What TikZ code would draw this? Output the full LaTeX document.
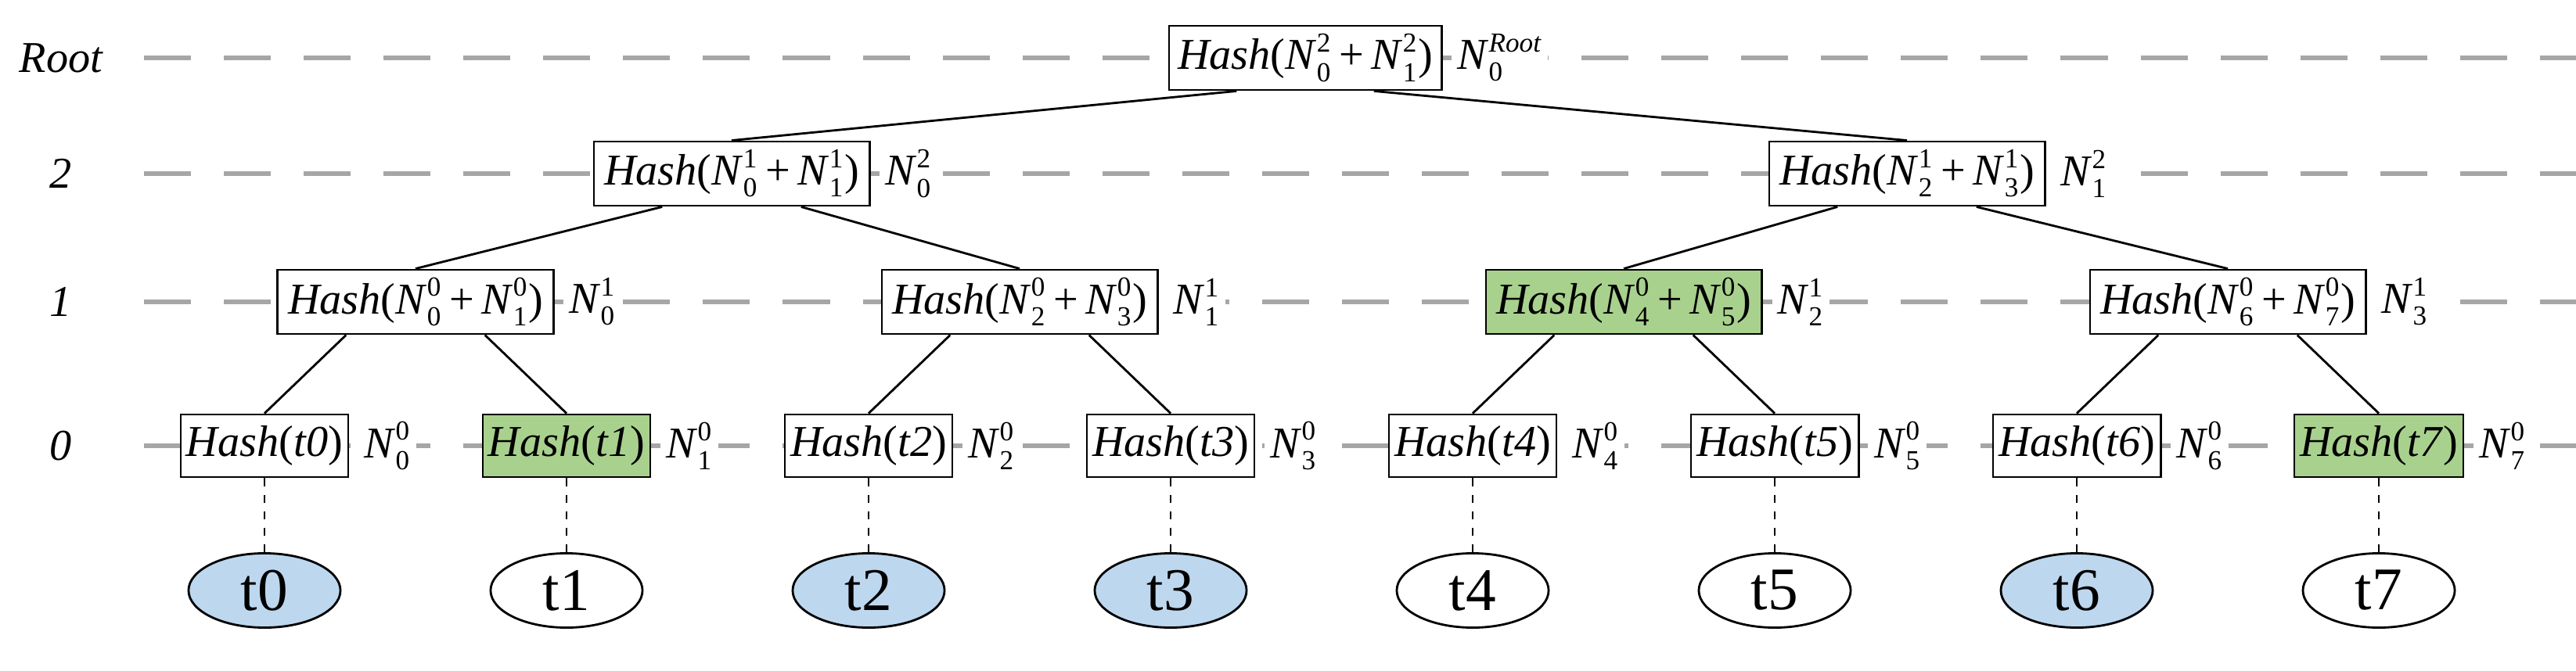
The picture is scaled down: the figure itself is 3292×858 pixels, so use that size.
\documentclass[tikz,border=0pt]{standalone}
\usepackage{fontspec}
\setmainfont{Liberation Serif}
\usetikzlibrary{calc, shapes.geometric}

\definecolor{leafgreen}{HTML}{A9D18E}
\definecolor{txblue}{HTML}{BDD7EE}
\newcommand{\nn}[2]{\textit{N}$^{\mbox{\fontsize{10}{10}\selectfont #2}}_{\mbox{\fontsize{10}{10}\selectfont #1}}$}

\begin{document}
\begin{tikzpicture}[
    x=0.01cm, y=-0.01cm,
    line width=0.8pt,
    font=\fontsize{16}{19}\selectfont,
    hashbox/.style={draw, fill=white, minimum height=0.8cm, inner sep=2pt},
    leafbox/.style={hashbox, minimum width=2.11cm},
    innerbox/.style={hashbox, minimum width=3.52cm, minimum height=0.82cm},
    tx/.style={draw, ellipse, minimum width=1.94cm, minimum height=0.95cm, inner sep=0pt, font=\fontsize{22}{26}\selectfont},
    nlabel/.style={anchor=west, fill=white, inner sep=2pt, xshift=3pt},
    level_line/.style={draw=gray!70, line width=1.6pt, dash pattern=on 0.6cm off 0.42cm},
    level_name/.style={font=\fontsize{16}{19}\selectfont\itshape}
]
    \useasboundingbox (0,0) rectangle (3292,858);

    % Level lines and names
    \foreach \name/\y in {Root/74, 2/222, 1/386, 0/570} {
        \draw[level_line] (184,\y) -- (3292,\y);
        \node[level_name] (lv\name) at (78,\y) {\name};
    }

    % Leaves: hashes and transactions
    \foreach \i/\hf/\tf in {0/white/txblue, 1/leafgreen/white, 2/white/txblue, 3/white/txblue,
                            4/white/white, 5/white/white, 6/white/txblue, 7/leafgreen/white} {
        \node[leafbox, fill=\hf] (h\i) at (338+386*\i,570) {\textit{Hash}(\textit{t\i})};
        \node[nlabel] (nh\i) at (h\i.east) {\nn{\i}{0}};
        \node[tx, fill=\tf] (t\i) at (338+386*\i,755) {t\i};
        \draw[dashed, line width=0.6pt] (h\i) -- (t\i);
    }

    % Level 1
    \foreach \j/\a/\b/\jf in {0/0/1/white, 1/2/3/white, 2/4/5/leafgreen, 3/6/7/white} {
        \node[innerbox, fill=\jf] (l\j) at (531+772*\j,386)
            {\textit{Hash}(\nn{\a}{0}\,+\,\nn{\b}{0})};
        \node[nlabel] (nl\j) at (l\j.east) {\nn{\j}{1}};
        \draw ($(l\j.south west)!0.25!(l\j.south east)$) -- (h\a.north);
        \draw ($(l\j.south west)!0.75!(l\j.south east)$) -- (h\b.north);
    }

    % Level 2
    \foreach \k/\a/\b/\x in {0/0/1/935, 1/2/3/2437} {
        \node[innerbox] (m\k) at (\x,222)
            {\textit{Hash}(\nn{\a}{1}\,+\,\nn{\b}{1})};
        \node[nlabel] (nm\k) at (m\k.east) {\nn{\k}{2}};
        \draw ($(m\k.south west)!0.25!(m\k.south east)$) -- (l\a.north);
        \draw ($(m\k.south west)!0.75!(m\k.south east)$) -- (l\b.north);
    }

    % Root
    \node[innerbox, minimum width=3.48cm] (root) at (1668,74)
        {\textit{Hash}(\nn{0}{2}\,+\,\nn{1}{2})};
    \node[nlabel] (nroot) at (root.east) {\nn{0}{\itshape Root}};
    \draw ($(root.south west)!0.25!(root.south east)$) -- (m0.north);
    \draw ($(root.south west)!0.75!(root.south east)$) -- (m1.north);

\end{tikzpicture}
\end{document}
